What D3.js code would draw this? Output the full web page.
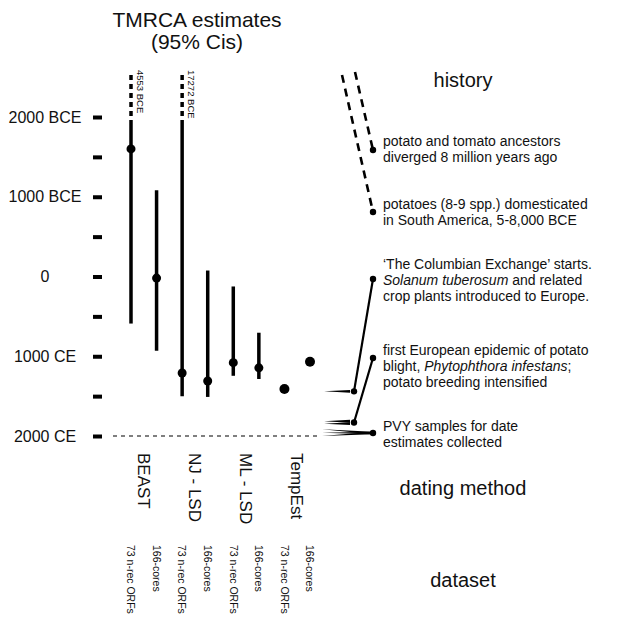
<!DOCTYPE html>
<html>
<head>
<meta charset="utf-8">
<script src="https://cdn.jsdelivr.net/npm/d3@7"></script>
<style>
  body { margin: 0; background: #fff; }
  text { font-family: "Liberation Sans", Arial, sans-serif; fill: #111; }
</style>
</head>
<body>
<svg width="617" height="617"></svg>
<script>
// dating methods, each run on two datasets
const methods = ['BEAST', 'NJ - LSD', 'ML - LSD', 'TempEst'];
const datasets = ['73 n-rec ORFs', '166-cores'];

// one value per method x dataset, in years CE (negative = BCE)
const medianYear = [-1600, 20, 1210, 1310, 1080, 1145, 1410, 1070];
const oldestYear = [-4553, -1080, -17272, -75, 125, 705, null, null];
const youngestYear = [590, 930, 1500, 1510, 1245, 1285, null, null];

const tickYears = [-2000, -1500, -1000, -500, 0, 500, 1000, 1500, 2000];
const tickLabels = ['2000 BCE', '', '1000 BCE', '', '0', '', '1000 CE', '', '2000 CE'];

// history events shown on the right
const eventText = [
  [['potato and tomato ancestors'], ['diverged 8 million years ago']],
  [['potatoes (8-9 spp.) domesticated'], ['in South America, 5-8,000 BCE']],
  [['\u2018The Columbian Exchange\u2019 starts.'], ['Solanum tuberosum', true, ' and related'], ['crop plants introduced to Europe.']],
  [['first European epidemic of potato'], ['blight, ', false, 'Phytophthora infestans', true, ';'], ['potato breeding intensified']],
  [['PVY samples for date'], ['estimates collected']]
];
const eventYears = [null, null, [1440], [1815, 1845], [1915, 1960, 2000]];

let svg = d3.select('svg');

let y = d3.scaleLinear().domain([-2000, 2000]).range([117, 436]);
let x = d3.scaleLinear().domain([0, 7]).range([131, 310]);
const breakYear = -1900, topYear = -2550;

// titles
svg.append('text').attr('x', 197).attr('y', 27).attr('text-anchor', 'middle')
  .attr('font-size', 21).text('TMRCA estimates');
svg.append('text').attr('x', 197).attr('y', 49).attr('text-anchor', 'middle')
  .attr('font-size', 21).text('(95% Cis)');
[['history', 87], ['dating method', 495], ['dataset', 587]].forEach(function(t) {
  svg.append('text').attr('x', 463).attr('y', t[1]).attr('text-anchor', 'middle')
    .attr('font-size', 20).text(t[0]);
});

// time axis
let yAxis = d3.axisLeft(y).tickValues(tickYears).tickSize(9)
  .tickFormat(function(d, i) { return tickLabels[i]; });
let ax = svg.append('g').attr('transform', 'translate(102,0)').call(yAxis);
ax.attr('font-family', null).attr('font-size', null);
ax.select('.domain').remove();
ax.selectAll('.tick line').attr('stroke', '#000').attr('stroke-width', 4);
ax.selectAll('.tick text').attr('x', -57).attr('text-anchor', 'middle')
  .attr('font-size', 16).attr('fill', '#111');

// 2000 CE reference line
svg.append('line').attr('x1', 113).attr('x2', 318).attr('y1', y(2000)).attr('y2', y(2000))
  .attr('stroke', '#000').attr('stroke-width', 1.2).attr('stroke-dasharray', '4,4');

// confidence intervals
let g = svg.append('g');
for (let i = 0; i < medianYear.length; i++) {
  let cx = x(i);
  if (oldestYear[i] !== null) {
    let top = Math.max(oldestYear[i], breakYear);
    g.append('line').attr('x1', cx).attr('x2', cx)
      .attr('y1', y(youngestYear[i])).attr('y2', y(top))
      .attr('stroke', '#000').attr('stroke-width', 3.5);
    if (oldestYear[i] < breakYear) {
      g.append('line').attr('x1', cx).attr('x2', cx)
        .attr('y1', y(breakYear)).attr('y2', y(topYear))
        .attr('stroke', '#000').attr('stroke-width', 3.5).attr('stroke-dasharray', '5,4');
      g.append('text').attr('transform', 'translate(' + (cx + 6) + ',70) rotate(90)')
        .attr('font-size', 9.5).text(-oldestYear[i] + ' BCE');
    }
  }
  g.append('circle').attr('cx', cx).attr('cy', y(medianYear[i]))
    .attr('r', oldestYear[i] === null ? 5 : 4.5).attr('fill', '#000');
}

// method and dataset labels
methods.forEach(function(m, k) {
  let c = (x(2 * k) + x(2 * k + 1)) / 2;
  svg.append('text').attr('transform', 'translate(' + (c - 6) + ',453) rotate(90)')
    .attr('font-size', 17).text(m);
});
for (let i = 0; i < medianYear.length; i++) {
  svg.append('text').attr('transform', 'translate(' + (x(i) - 3.7) + ',545) rotate(90)')
    .attr('font-size', 10.5).text(datasets[i % 2]);
}

// history annotations
const textX = 383, dotX = 373, leftX = 354;
const textTop = [146, 209, 269, 355, 431];
const textDotY = [150, 212, 279, 358, 433];
let h = svg.append('g');

eventText.forEach(function(lines, k) {
  let t = h.append('text').attr('x', textX).attr('y', textTop[k]).attr('font-size', 14);
  lines.forEach(function(parts, j) {
    for (let p = 0; p < parts.length; p++) {
      if (typeof parts[p] !== 'string') continue;
      let ts = t.append('tspan').text(parts[p]);
      if (p === 0) ts.attr('x', textX).attr('dy', j === 0 ? 0 : 16);
      if (parts[p + 1] === true) ts.attr('font-style', 'italic');
    }
  });
  h.append('circle').attr('cx', dotX).attr('cy', textDotY[k]).attr('r', 3.2).attr('fill', '#000');
});

// off-scale events: dashed leaders from the top
[[355, 72, 0], [342, 75, 1]].forEach(function(d) {
  h.append('line').attr('x1', d[0]).attr('y1', d[1]).attr('x2', dotX).attr('y2', textDotY[d[2]])
    .attr('stroke', '#000').attr('stroke-width', 2.6).attr('stroke-dasharray', '8,6');
});

// on-scale events
function wedge(x0, y0, x1, y1, w) {
  return 'M' + x0 + ',' + y0 + 'L' + x1 + ',' + (y1 - w) + 'L' + x1 + ',' + (y1 + w) + 'Z';
}
[2, 3].forEach(function(k) {
  let yrs = eventYears[k];
  let ym = y(d3.mean(yrs));
  yrs.forEach(function(yr) {
    h.append('path').attr('d', wedge(324, y(yr), 350, y(yr), 1.4)).attr('fill', '#000');
  });
  h.append('line').attr('x1', leftX).attr('y1', ym).attr('x2', dotX).attr('y2', textDotY[k])
    .attr('stroke', '#000').attr('stroke-width', 2.2);
  h.append('circle').attr('cx', leftX).attr('cy', ym).attr('r', 3.2).attr('fill', '#000');
});
eventYears[4].forEach(function(yr) {
  h.append('path').attr('d', wedge(322, y(yr), dotX, textDotY[4], 1.2)).attr('fill', '#000');
});
</script>
</body>
</html>
